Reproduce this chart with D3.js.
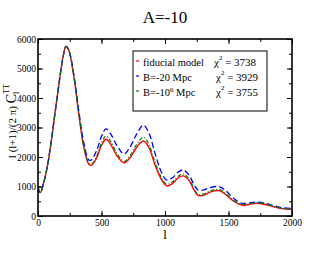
<!DOCTYPE html>
<html>
<head>
<meta charset="utf-8">
<script src="https://cdn.jsdelivr.net/npm/d3@7"></script>
<style>
  body { margin: 0; background: #fff; }
  text { font-family: "Liberation Serif", "Times New Roman", serif; fill: #000; }
</style>
</head>
<body>
<script>
var ells = [2, 10, 20, 40, 70, 100, 150, 200, 220, 240, 280, 320, 360, 400, 420, 460, 500, 535, 570, 620, 677, 720, 780, 829, 870, 920, 970, 1013, 1060, 1100, 1144, 1190, 1230, 1260, 1300, 1350, 1400, 1433, 1480, 1540, 1603, 1650, 1716, 1780, 1850, 1920, 2000];

var fiducial = [1000, 820, 800, 1050, 1600, 2400, 4000, 5450, 5750, 5650, 4800, 3500, 2350, 1750, 1720, 1950, 2400, 2600, 2450, 2050, 1800, 1950, 2350, 2540, 2350, 1750, 1250, 1020, 1100, 1280, 1360, 1200, 870, 700, 700, 800, 860, 850, 720, 500, 370, 380, 430, 400, 320, 250, 230];
var b20 = [1000, 820, 800, 1050, 1600, 2400, 4000, 5450, 5750, 5650, 4850, 3600, 2500, 1900, 1900, 2200, 2700, 2950, 2800, 2400, 2100, 2300, 2800, 3080, 2850, 2150, 1500, 1220, 1300, 1480, 1560, 1380, 1050, 880, 880, 950, 1000, 990, 850, 600, 430, 440, 470, 440, 360, 280, 260];
var b1e6 = [1000, 820, 800, 1050, 1600, 2400, 4000, 5450, 5750, 5650, 4800, 3520, 2380, 1780, 1760, 2000, 2480, 2710, 2550, 2130, 1850, 2020, 2450, 2670, 2460, 1840, 1320, 1080, 1160, 1340, 1420, 1260, 920, 740, 740, 840, 900, 895, 760, 530, 400, 410, 450, 420, 340, 260, 240];

var xTicks = [0, 500, 1000, 1500, 2000];
var yTicks = [0, 1000, 2000, 3000, 4000, 5000, 6000];
var chi2 = [3738, 3929, 3755];

var W = 330, H = 255;
var mL = 38, mR = 292, mT = 39, mB = 216;

var svg = d3.select("body").append("svg")
  .attr("width", W)
  .attr("height", H);

var x = d3.scaleLinear().domain([0, 2000]).range([mL, mR]);
var y = d3.scaleLinear().domain([0, 6000]).range([mB, mT]);

// curves
var series = [
  { vals: fiducial, color: "#ff0000", dash: null, w: 1.4 },
  { vals: b20, color: "#0000ff", dash: "6,3", w: 1.3 },
  { vals: b1e6, color: "#008000", dash: "4,2,1,2", w: 1.2 }
];

var line = d3.line()
  .x(function(d) { return x(d[0]); })
  .y(function(d) { return y(d[1]); })
  .curve(d3.curveCatmullRom.alpha(0.5));

svg.append("clipPath").attr("id", "clip")
  .append("rect").attr("x", mL).attr("y", mT).attr("width", mR - mL).attr("height", mB - mT);

series.forEach(function(s) {
  svg.append("path")
    .datum(ells.map(function(l, i) { return [l, s.vals[i]]; }))
    .attr("clip-path", "url(#clip)")
    .attr("fill", "none")
    .attr("stroke", s.color)
    .attr("stroke-width", s.w)
    .attr("stroke-dasharray", s.dash)
    .attr("d", line);
});

// axes, ticks pointing inward on all four sides
var g = svg.append("g").attr("class", "axes");

g.append("g").attr("transform", "translate(0," + mB + ")")
  .call(d3.axisBottom(x).tickValues(d3.range(0, 2001, 250)).tickSize(-3).tickFormat(""));
g.append("g").attr("transform", "translate(0," + mB + ")")
  .call(d3.axisBottom(x).tickValues(xTicks).tickSize(-5).tickPadding(3).tickFormat(d3.format("d")));
g.append("g").attr("transform", "translate(0," + mT + ")")
  .call(d3.axisTop(x).tickValues(d3.range(0, 2001, 250)).tickSize(-3).tickFormat(""));
g.append("g").attr("transform", "translate(0," + mT + ")")
  .call(d3.axisTop(x).tickValues(xTicks).tickSize(-5).tickFormat(""));

g.append("g").attr("transform", "translate(" + mL + ",0)")
  .call(d3.axisLeft(y).tickValues(d3.range(0, 6001, 500)).tickSize(-3).tickFormat(""));
g.append("g").attr("transform", "translate(" + mL + ",0)")
  .call(d3.axisLeft(y).tickValues(yTicks).tickSize(-5).tickPadding(2).tickFormat(d3.format("d")));
g.append("g").attr("transform", "translate(" + mR + ",0)")
  .call(d3.axisRight(y).tickValues(d3.range(0, 6001, 500)).tickSize(-3).tickFormat(""));
g.append("g").attr("transform", "translate(" + mR + ",0)")
  .call(d3.axisRight(y).tickValues(yTicks).tickSize(-5).tickFormat(""));

g.selectAll(".domain").remove();
g.selectAll("line").attr("stroke", "#000");
g.selectAll("text").style("font-family", "'Liberation Serif', serif").style("font-size", "9.5px");

svg.append("rect")
  .attr("x", mL).attr("y", mT)
  .attr("width", mR - mL).attr("height", mB - mT)
  .attr("fill", "none").attr("stroke", "#000").attr("stroke-width", 1.6);

// title and axis labels
svg.append("text").attr("x", 165).attr("y", 23)
  .attr("text-anchor", "middle").style("font-size", "17px").text("A=-10");

svg.append("text").attr("x", 165).attr("y", 239)
  .attr("text-anchor", "middle").style("font-size", "13px").text("l");

var yl = svg.append("text")
  .attr("transform", "translate(16,121) rotate(-90)")
  .attr("text-anchor", "middle").style("font-size", "11px");
yl.append("tspan").text("l (l+1)/(2 \u03c0)  ");
yl.append("tspan").style("font-size", "14px").text("C");
yl.append("tspan").attr("dy", 3).style("font-size", "8.5px").text("l");
yl.append("tspan").attr("dy", -10).attr("dx", -2).style("font-size", "8px").text("TT");

// legend
var lg = svg.append("g");
lg.append("rect").attr("x", 133).attr("y", 51).attr("width", 134).attr("height", 60)
  .attr("fill", "#fff").attr("stroke", "#000").attr("stroke-width", 1);

var names = [["fiducial model"], ["B=-20  Mpc"], ["B=-10", "6", " Mpc"]];
series.forEach(function(s, i) {
  var by = 66 + i * 15;
  lg.append("line").attr("x1", 136).attr("x2", 139).attr("y1", by - 5).attr("y2", by - 5)
    .attr("stroke", s.color).attr("stroke-width", 1.2);
  var t = lg.append("text").attr("x", 143).attr("y", by).style("font-size", "10.5px");
  t.append("tspan").text(names[i][0]);
  if (names[i].length > 1) {
    t.append("tspan").attr("dy", -4).style("font-size", "7px").text(names[i][1]);
    t.append("tspan").attr("dy", 4).text(names[i][2]);
  }
  var c = lg.append("text").attr("x", i === 0 ? 214 : 216).attr("y", by).style("font-size", "11px");
  c.append("tspan").text("\u03c7");
  c.append("tspan").attr("dy", -6).style("font-size", "7px").text("2");
  c.append("tspan").attr("dy", 6).text(" = " + chi2[i]);
});
</script>
</body>
</html>
